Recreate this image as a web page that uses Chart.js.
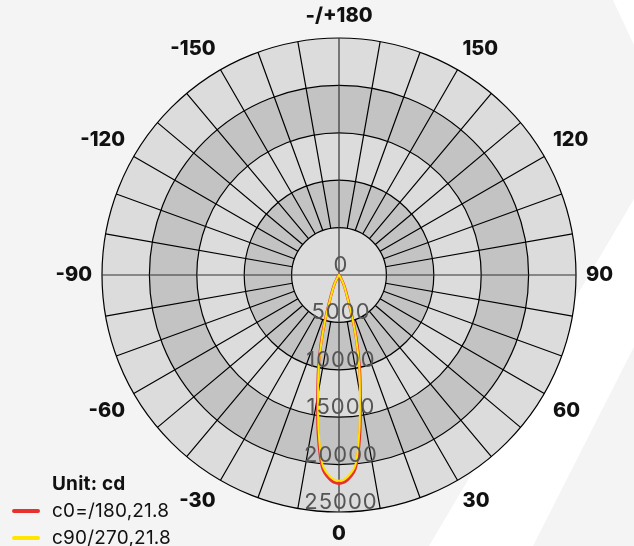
<!DOCTYPE html>
<html>
<head>
<meta charset="utf-8">
<script src="https://cdn.jsdelivr.net/npm/chart.js@4.4.1/dist/chart.umd.min.js"></script>
<style>
  html, body { margin: 0; padding: 0; }
  body { width: 634px; height: 546px; background: #f4f4f4; position: relative; overflow: hidden; font-family: Inter, sans-serif; }
  #bg, #chart { position: absolute; left: 0; top: 0; }
  .legend { position: absolute; left: 52px; top: 470px; font-size: 19px; line-height: 27px; color: #111; letter-spacing: 0.2px; }
  .legend .title { font-weight: 700; }
  .legend .item { position: relative; }
  .legend .sw { position: absolute; left: -40px; top: 12px; width: 28px; height: 4px; border-radius: 2px; }
</style>
</head>
<body>
<svg id="bg" width="634" height="546">
  <path d="M613 0 L662 105 Q672 128 660 155 L429 546 L533 546 L645 325 L645 0 Z" fill="#ffffff"/>
</svg>
<canvas id="chart" width="634" height="546"></canvas>
<div class="legend">
  <div class="title">Unit: cd</div>
  <div class="item"><span class="sw" style="background:#e8302c"></span>c0=/180,21.8</div>
  <div class="item"><span class="sw" style="background:#ffe500"></span>c90/270,21.8</div>
</div>
<script>
// angles in degrees, clockwise from the bottom (0) through -90 (left) to 180 (top)
const angles = [
  0, -2.5, -5, -7.5, -10, -12.5, -15, -17.5, -20, -22.5, -25, -27.5,
  -30, -32.5, -35, -37.5, -40, -42.5, -45, -47.5, -50, -52.5, -55, -57.5,
  -60, -62.5, -65, -67.5, -70, -72.5, -75, -77.5, -80, -82.5, -85, -87.5,
  -90, -92.5, -95, -97.5, -100, -102.5, -105, -107.5, -110, -112.5, -115, -117.5,
  -120, -122.5, -125, -127.5, -130, -132.5, -135, -137.5, -140, -142.5, -145, -147.5,
  -150, -152.5, -155, -157.5, -160, -162.5, -165, -167.5, -170, -172.5, -175, -177.5,
  180, 177.5, 175, 172.5, 170, 167.5, 165, 162.5, 160, 157.5, 155, 152.5,
  150, 147.5, 145, 142.5, 140, 137.5, 135, 132.5, 130, 127.5, 125, 122.5,
  120, 117.5, 115, 112.5, 110, 107.5, 105, 102.5, 100, 97.5, 95, 92.5,
  90, 87.5, 85, 82.5, 80, 77.5, 75, 72.5, 70, 67.5, 65, 62.5,
  60, 57.5, 55, 52.5, 50, 47.5, 45, 42.5, 40, 37.5, 35, 32.5,
  30, 27.5, 25, 22.5, 20, 17.5, 15, 12.5, 10, 7.5, 5, 2.5
];

// luminous intensity, cd
const c0 = [
  22000, 21600, 20350, 16900, 13000, 10050, 7200, 4650, 2850, 1950, 1380, 920,
  520, 220, 60, 0, 0, 0, 0, 0, 0, 0, 0, 0,
  0, 0, 0, 0, 0, 0, 0, 0, 0, 0, 0, 0,
  0, 0, 0, 0, 0, 0, 0, 0, 0, 0, 0, 0,
  0, 0, 0, 0, 0, 0, 0, 0, 0, 0, 0, 0,
  0, 0, 0, 0, 0, 0, 0, 0, 0, 0, 0, 0,
  0, 0, 0, 0, 0, 0, 0, 0, 0, 0, 0, 0,
  0, 0, 0, 0, 0, 0, 0, 0, 0, 0, 0, 0,
  0, 0, 0, 0, 0, 0, 0, 0, 0, 0, 0, 0,
  0, 0, 0, 0, 0, 0, 0, 0, 0, 0, 0, 0,
  0, 0, 0, 0, 0, 0, 0, 0, 0, 0, 60, 220,
  520, 920, 1380, 1950, 2850, 4650, 7200, 10050, 13000, 16900, 20350, 21600
];
const c90 = [
  21700, 21300, 20050, 16500, 12700, 9850, 7000, 4550, 2750, 1850, 1320, 880,
  480, 180, 40, 0, 0, 0, 0, 0, 0, 0, 0, 0,
  0, 0, 0, 0, 0, 0, 0, 0, 0, 0, 0, 0,
  0, 0, 0, 0, 0, 0, 0, 0, 0, 0, 0, 0,
  0, 0, 0, 0, 0, 0, 0, 0, 0, 0, 0, 0,
  0, 0, 0, 0, 0, 0, 0, 0, 0, 0, 0, 0,
  0, 0, 0, 0, 0, 0, 0, 0, 0, 0, 0, 0,
  0, 0, 0, 0, 0, 0, 0, 0, 0, 0, 0, 0,
  0, 0, 0, 0, 0, 0, 0, 0, 0, 0, 0, 0,
  0, 0, 0, 0, 0, 0, 0, 0, 0, 0, 0, 0,
  0, 0, 0, 0, 0, 0, 0, 0, 0, 0, 40, 180,
  480, 880, 1320, 1850, 2750, 4550, 7000, 9850, 12700, 16500, 20050, 21300
];

const bandColors = ['#dcdcdc', '#c3c3c3'];

// alternating grey rings under the grid
const ringBands = {
  id: 'ringBands',
  beforeDraw(chart) {
    const r = chart.scales.r;
    const ctx = chart.ctx;
    const vals = r.ticks.map(t => t.value).filter(v => v > 0).reverse();
    ctx.save();
    vals.forEach((v, i) => {
      ctx.beginPath();
      ctx.arc(r.xCenter, r.yCenter, r.getDistanceFromCenterForValue(v), 0, Math.PI * 2);
      ctx.fillStyle = bandColors[i % 2];
      ctx.fill();
    });
    ctx.restore();
  }
};

// tick values written downward along the 0 axis
const tickText = {
  id: 'tickText',
  afterDatasetsDraw(chart) {
    const r = chart.scales.r;
    const ctx = chart.ctx;
    ctx.save();
    ctx.font = '400 22px Inter';
    ctx.letterSpacing = '1px';
    ctx.fillStyle = '#555';
    ctx.textAlign = 'center';
    ctx.textBaseline = 'alphabetic';
    r.ticks.forEach(t => {
      const y = r.yCenter + r.getDistanceFromCenterForValue(t.value) - 3;
      ctx.fillText(t.label, r.xCenter + 2, y);
    });
    ctx.restore();
  }
};

const isAxis = i => i % 36 === 0;

new Chart(document.getElementById('chart'), {
  type: 'radar',
  data: {
    labels: angles,
    datasets: [
      { label: 'c0=/180,21.8', data: c0, borderColor: '#e8302c', borderWidth: 2.8, order: 2 },
      { label: 'c90/270,21.8', data: c90, borderColor: '#ffe500', borderWidth: 2, order: 1 }
    ]
  },
  options: {
    responsive: false,
    animation: false,
    devicePixelRatio: 1,
    layout: { padding: { left: 36, top: 4 } },
    plugins: { legend: { display: false }, tooltip: { enabled: false } },
    elements: { point: { radius: 0 }, line: { tension: 0.3, fill: false } },
    scales: {
      r: {
        startAngle: 180,
        min: 0,
        max: 25000,
        ticks: { stepSize: 5000, display: false, callback: v => String(v) },
        grid: { circular: true, color: '#000', lineWidth: 1.2 },
        angleLines: {
          color: ctx => isAxis(ctx.index) ? '#333' : '#000',
          lineWidth: ctx => ctx.index % 4 === 0 ? 1.2 : 0,
          borderDash: ctx => {
            if (isAxis(ctx.index)) return [];
            const inner = ctx.chart.scales.r.getDistanceFromCenterForValue(5000);
            return [0, inner, 2000, 0];
          }
        },
        pointLabels: {
          padding: 10,
          color: '#111',
          font: { family: 'Inter', size: 20, weight: '800' },
          callback: v => v % 30 !== 0 ? '' : (v === 180 ? '-/+180' : String(v))
        }
      }
    }
  },
  plugins: [ringBands, tickText]
});
</script>
</body>
</html>
